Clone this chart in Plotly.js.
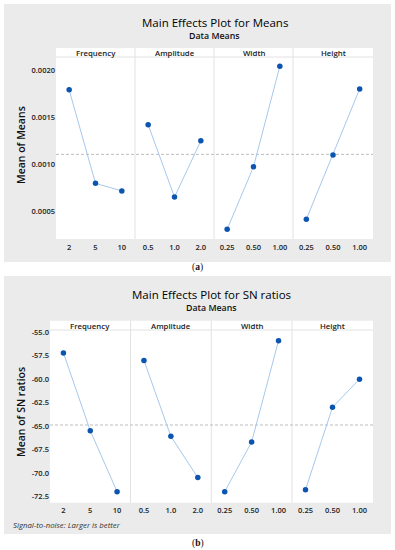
<!DOCTYPE html>
<html>
<head>
<meta charset="utf-8">
<script src="https://cdn.plot.ly/plotly-3.0.1.min.js"></script>
<style>html,body{margin:0;padding:0;background:#fff;}#chart{width:395px;height:550px;}</style>
</head>
<body>
<div id="chart"></div>
<script>
// ---------- data ----------
const factors = ['Frequency', 'Amplitude', 'Width', 'Height'];
const levelsFrequency = ['2', '5', '10'];
const levelsAmplitude = ['0.5', '1.0', '2.0'];
const levelsWidth = ['0.25', '0.50', '1.00'];
const levelsHeight = ['0.25', '0.50', '1.00'];

const meansFrequency = [0.00179, 0.00080, 0.00072];
const meansAmplitude = [0.00142, 0.000655, 0.00125];
const meansWidth = [0.000314, 0.000976, 0.00204];
const meansHeight = [0.00042, 0.00110, 0.00180];

const snFrequency = [-57.2, -65.5, -72.0];
const snAmplitude = [-58.0, -66.1, -70.5];
const snWidth = [-72.0, -66.7, -55.9];
const snHeight = [-71.8, -63.0, -60.0];

const meansTickVals = [0.0005, 0.0010, 0.0015, 0.0020];
const meansTickText = ['0.0005', '0.0010', '0.0015', '0.0020'];
const snTickVals = [-72.5, -70.0, -67.5, -65.0, -62.5, -60.0, -57.5, -55.0];
const snTickText = ['-72.5', '-70.0', '-67.5', '-65.0', '-62.5', '-60.0', '-57.5', '-55.0'];

const titleMeans = 'Main Effects Plot for Means';
const titleSN = 'Main Effects Plot for SN ratios';
const subTitle = 'Data Means';
const yTitleMeans = 'Mean of Means';
const yTitleSN = 'Mean of SN ratios';
const footnote = 'Signal-to-noise: Larger is better';

// ---------- layout helpers ----------
const W = 395, H = 550;
const px = x => x / W;
const py = y => 1 - y / H;

const levels = [levelsFrequency, levelsAmplitude, levelsWidth, levelsHeight];
const meansSeries = [meansFrequency, meansAmplitude, meansWidth, meansHeight];
const snSeries = [snFrequency, snAmplitude, snWidth, snHeight];

const topEdges = [56, 135, 214, 293, 373];
const botEdges = [50, 130.5, 211.25, 292, 373];
const geoTop = {stripTop: 48, plotTop: 57, plotBottom: 239};
const geoBot = {stripTop: 320.7, plotTop: 330, plotBottom: 502.7};

const meanOf = arrs => { const all = [].concat(...arrs); return all.reduce((a, b) => a + b, 0) / all.length; };
const meanAll = meanOf(meansSeries);
const snAll = meanOf(snSeries);

const fontFam = '"Open Sans", "Noto Sans", sans-serif';
const lineColor = '#a8c8ec';
const markerColor = '#0b55b0';
const sepColor = '#e2e2e2';
const tickFont = {size: 7.5, color: '#222', family: fontFam, weight: 600};

const traces = [];
const layout = {
  width: W, height: H,
  margin: {l: 0, r: 0, t: 0, b: 0},
  paper_bgcolor: '#ffffff',
  plot_bgcolor: 'rgba(0,0,0,0)',
  showlegend: false,
  font: {family: fontFam, color: '#333'},
  shapes: [],
  annotations: []
};

function addFrame(g0, g1, edges, geo) {
  layout.shapes.push({type: 'rect', xref: 'paper', yref: 'paper', layer: 'below',
    x0: px(4), x1: px(391), y0: py(g1), y1: py(g0), fillcolor: '#ebebeb', line: {width: 0}});
  layout.shapes.push({type: 'rect', xref: 'paper', yref: 'paper', layer: 'below',
    x0: px(edges[0]), x1: px(edges[4]), y0: py(geo.plotBottom), y1: py(geo.stripTop), fillcolor: '#ffffff', line: {width: 0}});
  layout.shapes.push({type: 'line', xref: 'paper', yref: 'paper', layer: 'below',
    x0: px(edges[0]), x1: px(edges[4]), y0: py(geo.plotTop), y1: py(geo.plotTop), line: {color: sepColor, width: 1}});
  for (let i = 1; i < 4; i++) {
    layout.shapes.push({type: 'line', xref: 'paper', yref: 'paper', layer: 'below',
      x0: px(edges[i]), x1: px(edges[i]), y0: py(geo.plotBottom), y1: py(geo.stripTop), line: {color: sepColor, width: 1}});
  }
  for (let i = 0; i < 4; i++) {
    layout.annotations.push({xref: 'paper', yref: 'paper', x: px((edges[i] + edges[i + 1]) / 2), y: py((geo.stripTop + geo.plotTop) / 2 + 0.3),
      xanchor: 'center', yanchor: 'middle', showarrow: false, text: factors[i], borderpad: 0,
      font: {size: 7.8, color: '#1a1a1a', weight: 600, family: fontFam}});
  }
}
addFrame(4, 262, topEdges, geoTop);
addFrame(276, 534, botEdges, geoBot);

function addChart(series, edges, geo, axOffset, yName, yRange, tv, tt, refVal) {
  const yKey = yName === 'y' ? 'yaxis' : 'yaxis' + yName.slice(1);
  for (let i = 0; i < 4; i++) {
    const n = axOffset + i + 1;
    const xName = n === 1 ? 'x' : 'x' + n;
    const xKey = n === 1 ? 'xaxis' : 'xaxis' + n;
    layout[xKey] = {
      domain: [px(edges[i]), px(edges[i + 1])], anchor: yName, type: 'category',
      categoryorder: 'array', categoryarray: levels[i], range: [-0.5, 2.5],
      showgrid: false, zeroline: false, showline: false, ticks: '', fixedrange: true,
      tickfont: tickFont, ticklabelstandoff: 2
    };
    traces.push({
      type: 'scatter', mode: 'lines+markers', x: levels[i], y: series[i], xaxis: xName, yaxis: yName,
      line: {color: lineColor, width: 1}, marker: {color: markerColor, size: 5.5}, cliponaxis: false, hoverinfo: 'skip'
    });
  }
  layout[yKey] = {
    domain: [py(geo.plotBottom), py(geo.plotTop)], anchor: axOffset === 0 ? 'x' : 'x' + (axOffset + 1),
    range: yRange, tickvals: tv, ticktext: tt, showgrid: false, zeroline: false, showline: false, ticks: '',
    tickfont: tickFont, fixedrange: true
  };
  layout.shapes.push({type: 'line', xref: 'paper', yref: yName, layer: 'below',
    x0: px(edges[0]), x1: px(edges[4]), y0: refVal, y1: refVal, line: {color: '#bdbdbd', width: 1, dash: '3px,2px'}});
}
addChart(meansSeries, topEdges, geoTop, 0, 'y', [0.000211, 0.002138], meansTickVals, meansTickText, meanAll);
addChart(snSeries, botEdges, geoBot, 4, 'y2', [-73.18, -54.76], snTickVals, snTickText, snAll);

function ann(text, x, y, font, extra) {
  layout.annotations.push(Object.assign({xref: 'paper', yref: 'paper', x: px(x), y: py(y), xanchor: 'center', yanchor: 'middle',
    showarrow: false, text: text, font: font, borderpad: 0}, extra || {}));
}
ann(titleMeans, 214.5, 22, {size: 11.5, color: '#000', family: fontFam, weight: 500});
ann(subTitle, 214.5, 36, {size: 8.8, color: '#111', family: fontFam, weight: 600});
ann(yTitleMeans, 21, 145, {size: 10.5, color: '#111', family: fontFam, weight: 600}, {textangle: -90});
ann(titleSN, 211.5, 294.5, {size: 11.5, color: '#000', family: fontFam, weight: 500});
ann(subTitle, 211.5, 308, {size: 8.8, color: '#111', family: fontFam, weight: 600});
ann(yTitleSN, 21, 412, {size: 10.5, color: '#111', family: fontFam, weight: 600}, {textangle: -90});
ann('<i>' + footnote + '</i>', 12, 525, {size: 7.8, color: '#333', family: fontFam}, {xanchor: 'left'});
ann('(<b>a</b>)', 197.5, 267.5, {size: 9.5, color: '#111', family: '"Liberation Serif", "DejaVu Serif", serif'});
ann('(<b>b</b>)', 197.5, 543, {size: 9.5, color: '#111', family: '"Liberation Serif", "DejaVu Serif", serif'});

Plotly.newPlot('chart', traces, layout, {displayModeBar: false, staticPlot: true});
</script>
</body>
</html>
